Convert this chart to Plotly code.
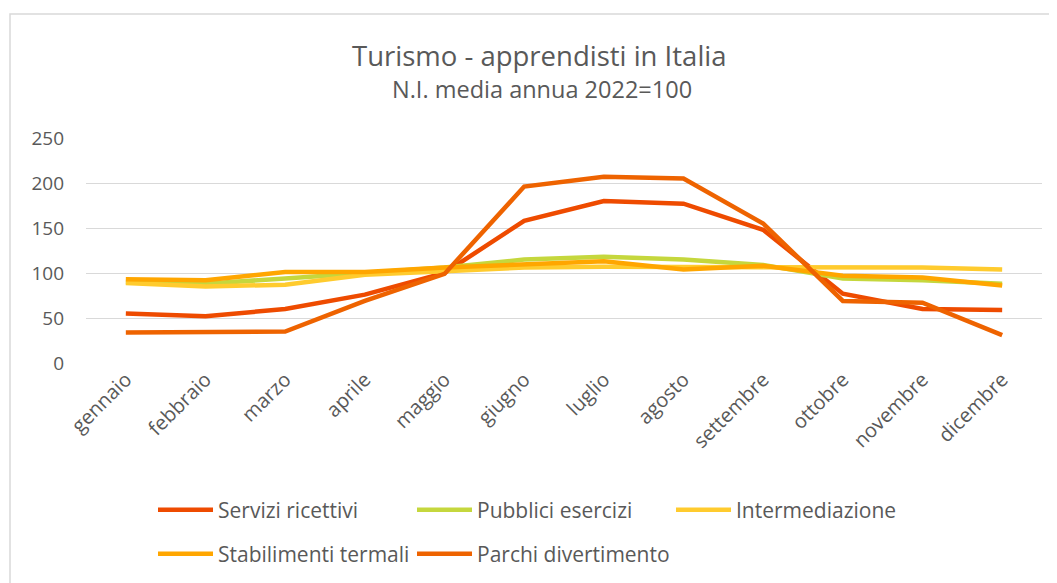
import plotly.graph_objects as go

MESI = ["gennaio", "febbraio", "marzo", "aprile", "maggio", "giugno",
        "luglio", "agosto", "settembre", "ottobre", "novembre", "dicembre"]

SERVIZI_RICETTIVI = [55, 52, 60, 76, 100, 158, 180, 177, 148, 77, 60, 59]
PUBBLICI_ESERCIZI = [90, 88, 94, 100, 106, 115, 118, 115, 109, 94, 92, 88]
INTERMEDIAZIONE = [89, 85, 87, 98, 102, 106, 107, 107, 107, 106, 106, 104]
STABILIMENTI_TERMALI = [93, 92, 101, 101, 106, 109, 113, 104, 108, 97, 95, 86]
PARCHI_DIVERTIMENTO = [34, 34, 35, 69, 99, 196, 207, 205, 155, 69, 67, 31]

GREY = "#595959"
FONT = "Open Sans"

series = [
    ("Servizi ricettivi", SERVIZI_RICETTIVI, "#EE4B00", "legend"),
    ("Pubblici esercizi", PUBBLICI_ESERCIZI, "#C5D73D", "legend"),
    ("Intermediazione", INTERMEDIAZIONE, "#FFCB2E", "legend"),
    ("Stabilimenti termali", STABILIMENTI_TERMALI, "#FFA600", "legend2"),
    ("Parchi divertimento", PARCHI_DIVERTIMENTO, "#EE6300", "legend2"),
]

fig = go.Figure()
for name, vals, col, leg in series:
    fig.add_trace(go.Scatter(x=MESI, y=vals, mode="lines", name=name, legend=leg,
                             line=dict(color=col, width=4.5)))

# the page body adds an 8px offset, so the figure is 8px smaller and
# all screen positions below are shifted by OFF
OFF = 8
FW, FH = 1057 - OFF, 583 - OFF
# plot area on screen: x 86..1042, y 138..363
L, R, T, B = 86 - OFF, 1042 - OFF, 138 - OFF, 363 - OFF
W, H = R - L, B - T
px = lambda x: (x - OFF - L) / W
py = lambda y: (B - (y - OFF)) / H

leg_common = dict(orientation="h", xanchor="left", yanchor="middle",
                  font=dict(family=FONT, size=21, color=GREY),
                  entrywidth=189, entrywidthmode="pixels", itemwidth=55,
                  bgcolor="rgba(0,0,0,0)", tracegroupgap=0)
fig.update_layout(
    width=FW, height=FH,
    margin=dict(l=L, r=FW - R, t=T, b=FH - B, autoexpand=False),
    paper_bgcolor="white", plot_bgcolor="white",
    font=dict(family=FONT, color=GREY),
    legend=dict(x=px(153), y=py(510), **leg_common),
    legend2=dict(x=px(153), y=py(554), **leg_common),
    xaxis=dict(tickangle=-45, tickfont=dict(size=20, color=GREY), showgrid=False,
               showline=False, ticks="", range=[-0.5, 11.5], automargin=False),
    yaxis=dict(range=[0, 250], dtick=50, tickfont=dict(size=19, color=GREY),
               gridcolor="#D9D9D9", gridwidth=1.3, zeroline=False, showline=False,
               ticklabelstandoff=21, automargin=False),
    annotations=[
        dict(text="Turismo - apprendisti in Italia", x=px(539), y=py(55),
             xref="paper", yref="paper", showarrow=False, xanchor="center",
             yanchor="middle", font=dict(family=FONT, size=27.5, color=GREY)),
        dict(text="N.I. media annua 2022=100", x=px(542), y=py(89),
             xref="paper", yref="paper", showarrow=False, xanchor="center",
             yanchor="middle", font=dict(family=FONT, size=23.5, color=GREY)),
    ],
    shapes=[dict(type="rect", xref="paper", yref="paper",
                 x0=px(10), x1=px(1070), y0=py(600), y1=py(14),
                 line=dict(color="#D9D9D9", width=1.5), layer="below")],
)

fig.write_html("out.html")
